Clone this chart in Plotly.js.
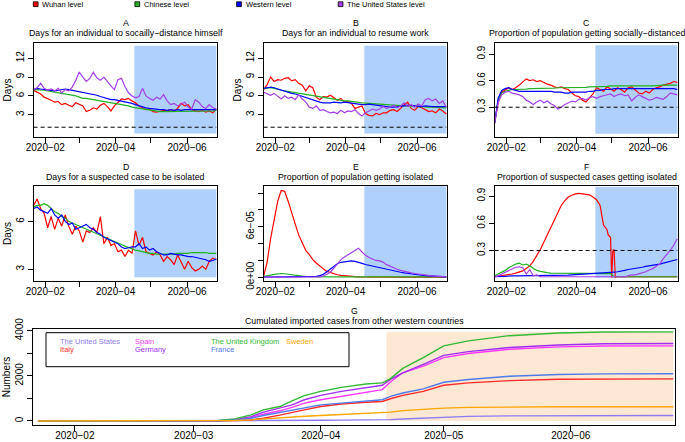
<!DOCTYPE html>
<html>
<head>
<meta charset="utf-8">
<script src="https://cdn.plot.ly/plotly-3.0.1.min.js"></script>
<style>html,body{margin:0;padding:0;background:#fff}#chart{width:685px;height:442px}</style>
</head>
<body>
<div id="chart"></div>
<script>
// ---------------- DATA ----------------
const days = ['2020-01-22','2020-01-25','2020-01-28','2020-01-31','2020-02-03','2020-02-06','2020-02-09','2020-02-12','2020-02-15','2020-02-18','2020-02-21','2020-02-24','2020-02-27','2020-03-01','2020-03-04','2020-03-07','2020-03-10','2020-03-13','2020-03-16','2020-03-19','2020-03-22','2020-03-25','2020-03-28','2020-03-31','2020-04-03','2020-04-06','2020-04-09','2020-04-12','2020-04-15','2020-04-18','2020-04-21','2020-04-24','2020-04-27','2020-04-30','2020-05-03','2020-05-06','2020-05-09','2020-05-12','2020-05-15','2020-05-18','2020-05-21','2020-05-24','2020-05-27','2020-05-30','2020-06-02','2020-06-05','2020-06-08','2020-06-11','2020-06-14','2020-06-17','2020-06-20','2020-06-23','2020-06-26'];

const seriesNames = ['Wuhan level','Chinese level','Western level','The United States level'];

// A: Days for an individual to socially-distance himself
const aWuhan = [6.9,6.6,6.3,5.8,5.6,5.3,5.0,5.1,4.6,4.8,4.5,4.3,4.9,4.7,4.4,3.5,3.7,4.1,3.9,4.5,4.8,4.3,3.6,4.4,5.0,5.5,5.4,5.6,5.2,4.9,4.4,4.1,3.8,3.9,3.5,3.4,3.6,3.7,3.6,3.8,3.6,4.0,4.8,4.4,4.6,3.8,3.6,3.5,3.7,3.4,3.6,3.3,3.9];
const aChina = [7.0,7.0,6.9,6.9,6.8,6.7,6.6,6.5,6.5,6.3,6.2,6.1,6.0,5.8,5.6,5.6,5.5,5.5,5.4,5.3,5.2,5.1,5.0,4.9,4.8,4.7,4.5,4.4,4.2,4.1,4.0,3.9,3.8,3.7,3.6,3.6,3.5,3.5,3.5,3.5,3.5,3.5,3.5,3.5,3.5,3.5,3.6,3.6,3.6,3.6,3.6,3.6,3.7];
const aWest = [7.0,7.2,7.1,7.0,6.9,6.9,6.8,6.9,7.0,7.1,7.0,6.9,6.7,6.6,6.5,6.4,6.4,6.3,6.1,5.9,5.7,5.5,5.4,5.4,5.3,5.2,5.1,5.0,4.8,4.6,4.4,4.3,4.1,4.0,3.9,3.9,3.8,3.8,3.7,3.8,3.7,3.8,3.7,3.8,3.8,3.7,3.7,3.8,3.7,3.7,3.7,3.8,3.8];
const aUS = [7.0,7.3,8.0,7.2,6.9,7.1,6.8,7.2,6.5,7.0,6.8,7.4,8.5,9.8,9.0,8.3,8.8,9.8,8.9,8.5,9.0,8.2,7.6,7.0,8.6,8.8,7.5,6.5,6.0,5.7,5.9,7.2,6.0,5.6,5.3,5.8,5.5,6.2,5.2,4.6,4.8,4.4,4.7,5.0,4.2,3.9,5.4,5.0,4.3,4.0,4.6,4.1,3.9];

// B: Days for an individual to resume work
const bWuhan = [7.0,7.8,9.0,8.3,8.6,8.5,8.8,8.9,8.4,8.6,8.0,7.7,6.8,7.6,7.3,5.8,5.4,5.9,5.8,6.1,5.7,5.3,5.6,5.0,5.1,4.8,4.0,4.2,4.4,3.2,2.9,2.8,3.2,3.0,3.3,3.3,3.7,3.8,3.5,4.0,4.6,5.0,4.0,3.7,4.3,4.1,3.8,3.5,3.6,3.3,3.9,3.6,3.1];
const bChina = [7.2,7.3,7.3,7.2,7.0,6.9,6.8,6.7,6.6,6.5,6.4,6.3,6.2,6.1,6.0,5.9,5.8,5.7,5.6,5.5,5.4,5.35,5.3,5.2,5.2,5.1,5.0,4.95,4.9,4.85,4.8,4.75,4.7,4.65,4.6,4.6,4.55,4.5,4.5,4.45,4.4,4.4,4.35,4.35,4.3,4.3,4.25,4.2,4.2,4.2,4.15,4.1,4.1];
const bWest = [7.2,7.3,7.4,7.3,7.1,6.9,6.8,6.6,6.4,6.3,6.1,5.9,5.7,5.5,5.3,5.1,5.0,4.9,4.85,4.9,5.0,4.95,4.9,5.0,4.9,4.8,4.7,4.6,4.6,4.6,4.7,4.6,4.5,4.4,4.3,4.3,4.2,4.2,4.3,4.4,4.4,4.5,4.5,4.4,4.3,4.3,4.4,4.3,4.3,4.3,4.3,4.3,4.3];
const bUS = [6.6,6.3,6.1,6.4,5.9,5.5,6.0,5.6,5.8,5.4,6.2,5.5,5.0,4.2,4.0,4.4,3.7,3.8,3.5,3.3,3.4,3.2,3.7,3.3,3.6,3.5,3.8,3.2,2.8,3.3,3.6,3.9,3.7,3.9,4.3,4.0,4.2,4.5,4.1,4.4,4.9,4.3,4.6,4.2,4.7,4.4,5.4,5.6,5.2,5.5,4.8,5.2,4.2];

// C: Proportion of population getting socially-distanced
const cWuhan = [0.12,0.35,0.47,0.50,0.52,0.50,0.52,0.55,0.58,0.62,0.60,0.61,0.59,0.60,0.58,0.56,0.55,0.53,0.52,0.53,0.51,0.50,0.46,0.43,0.42,0.38,0.36,0.40,0.45,0.52,0.50,0.48,0.53,0.50,0.48,0.52,0.50,0.47,0.52,0.53,0.50,0.46,0.45,0.48,0.46,0.50,0.52,0.53,0.55,0.56,0.57,0.59,0.58];
const cChina = [0.12,0.38,0.46,0.48,0.49,0.50,0.50,0.50,0.50,0.505,0.51,0.51,0.51,0.51,0.51,0.51,0.51,0.515,0.52,0.52,0.52,0.52,0.52,0.52,0.52,0.52,0.525,0.53,0.53,0.53,0.53,0.53,0.535,0.54,0.54,0.54,0.54,0.54,0.54,0.54,0.54,0.54,0.535,0.535,0.54,0.54,0.545,0.55,0.55,0.55,0.55,0.55,0.55];
const cWest = [0.12,0.40,0.49,0.51,0.52,0.50,0.49,0.48,0.48,0.48,0.48,0.48,0.48,0.48,0.48,0.48,0.48,0.47,0.47,0.47,0.46,0.46,0.47,0.47,0.47,0.47,0.47,0.48,0.48,0.49,0.49,0.50,0.50,0.50,0.51,0.51,0.51,0.51,0.51,0.51,0.51,0.51,0.51,0.51,0.51,0.51,0.51,0.51,0.51,0.51,0.51,0.51,0.50];
const cUS = [0.12,0.35,0.44,0.47,0.48,0.46,0.45,0.44,0.42,0.38,0.36,0.33,0.36,0.38,0.35,0.37,0.34,0.32,0.28,0.30,0.33,0.35,0.37,0.36,0.39,0.40,0.38,0.41,0.42,0.40,0.42,0.43,0.44,0.45,0.42,0.44,0.45,0.43,0.44,0.37,0.41,0.44,0.42,0.40,0.38,0.39,0.41,0.40,0.39,0.42,0.46,0.45,0.44];

// D: Days for a suspected case to be isolated
const dWuhan = [7.0,7.4,6.8,6.5,5.6,6.3,5.5,6.2,5.7,6.4,5.7,5.2,5.7,5.4,4.7,5.4,5.3,5.6,5.3,6.3,4.6,5.0,4.5,4.6,4.1,4.2,3.8,4.2,4.0,5.4,4.5,5.0,4.1,4.0,3.9,4.1,3.9,3.5,3.8,3.6,3.3,3.9,3.4,3.0,3.5,3.1,2.9,3.0,3.2,3.0,3.5,3.7,3.6];
const dChina = [6.9,7.0,7.0,7.1,7.0,6.8,6.6,6.5,6.3,6.2,6.0,5.9,5.8,5.7,5.6,5.5,5.4,5.3,5.2,5.1,5.0,4.9,4.85,4.75,4.65,4.55,4.45,4.35,4.25,4.2,4.15,4.1,4.05,4.0,4.0,3.95,3.95,3.95,3.95,3.95,3.95,4.0,4.0,4.0,4.0,4.05,4.05,4.05,4.05,4.05,4.0,4.0,4.0];
const dWest = [6.8,6.9,6.7,6.6,6.5,6.8,6.4,6.2,6.4,6.0,5.8,5.9,5.5,5.6,5.7,5.8,5.6,5.5,5.3,5.2,5.0,4.9,4.8,4.7,4.6,4.4,4.3,4.35,4.4,4.4,4.6,4.3,4.4,4.2,4.3,4.1,4.0,3.9,3.9,4.0,3.95,3.9,3.9,3.85,3.8,3.8,3.75,3.7,3.65,3.6,3.5,3.55,3.65];

// E: Proportion of population getting isolated
const eWuhan = [0.1e-5,1.8e-5,4.6e-5,7.0e-5,9.0e-5,10.3e-5,10.2e-5,9.0e-5,7.5e-5,6.3e-5,5.0e-5,4.0e-5,3.2e-5,2.7e-5,2.1e-5,1.7e-5,1.3e-5,1.0e-5,0.7e-5,0.55e-5,0.4e-5,0.3e-5,0.22e-5,0.16e-5,0.12e-5,0.09e-5,0.07e-5,0.05e-5,0.04e-5,0.03e-5,0.03e-5,0.03e-5,0.02e-5,0.02e-5,0.02e-5,0.02e-5,0.02e-5,0.02e-5,0.02e-5,0.02e-5,0.02e-5,0.02e-5,0.02e-5,0.02e-5,0.02e-5,0.02e-5,0.02e-5,0.02e-5,0.02e-5,0.02e-5,0.02e-5,0.02e-5,0.02e-5];
const eChina = [0.1e-5,0.15e-5,0.25e-5,0.35e-5,0.42e-5,0.45e-5,0.42e-5,0.35e-5,0.28e-5,0.22e-5,0.17e-5,0.13e-5,0.1e-5,0.08e-5,0.07e-5,0.06e-5,0.05e-5,0.05e-5,0.05e-5,0.05e-5,0.05e-5,0.05e-5,0.05e-5,0.05e-5,0.05e-5,0.05e-5,0.05e-5,0.05e-5,0.05e-5,0.05e-5,0.05e-5,0.05e-5,0.05e-5,0.05e-5,0.05e-5,0.05e-5,0.05e-5,0.05e-5,0.05e-5,0.05e-5,0.05e-5,0.05e-5,0.05e-5,0.05e-5,0.05e-5,0.05e-5,0.05e-5,0.05e-5,0.05e-5,0.05e-5,0.05e-5,0.05e-5,0.05e-5];
const eWest = [0.02e-5,0.02e-5,0.02e-5,0.02e-5,0.02e-5,0.02e-5,0.02e-5,0.02e-5,0.02e-5,0.02e-5,0.02e-5,0.02e-5,0.02e-5,0.02e-5,0.05e-5,0.1e-5,0.2e-5,0.35e-5,0.65e-5,1.0e-5,1.3e-5,1.6e-5,1.78e-5,1.86e-5,1.92e-5,1.94e-5,1.88e-5,1.8e-5,1.65e-5,1.52e-5,1.42e-5,1.32e-5,1.22e-5,1.12e-5,1.03e-5,0.94e-5,0.85e-5,0.76e-5,0.68e-5,0.6e-5,0.52e-5,0.45e-5,0.39e-5,0.34e-5,0.29e-5,0.24e-5,0.2e-5,0.16e-5,0.13e-5,0.1e-5,0.08e-5,0.06e-5,0.05e-5];
const eUS = [0.01e-5,0.01e-5,0.01e-5,0.01e-5,0.01e-5,0.01e-5,0.01e-5,0.01e-5,0.01e-5,0.01e-5,0.01e-5,0.01e-5,0.01e-5,0.01e-5,0.01e-5,0.02e-5,0.05e-5,0.15e-5,0.35e-5,0.6e-5,1.1e-5,1.6e-5,2.1e-5,2.4e-5,2.65e-5,2.9e-5,3.2e-5,3.45e-5,3.0e-5,2.6e-5,2.35e-5,2.15e-5,2.0e-5,1.95e-5,1.8e-5,1.5e-5,1.3e-5,1.12e-5,0.95e-5,0.82e-5,0.7e-5,0.6e-5,0.52e-5,0.45e-5,0.38e-5,0.32e-5,0.26e-5,0.21e-5,0.17e-5,0.13e-5,0.1e-5,0.08e-5,0.06e-5];

// F: Proportion of suspected cases getting isolated
const fWuhanDays = days.slice(0,33).concat(['2020-04-28','2020-04-29','2020-04-30','2020-05-01','2020-05-02','2020-05-03','2020-05-04','2020-05-05']).concat(days.slice(36));
const fWuhan = [0.01,0.015,0.02,0.025,0.03,0.04,0.05,0.06,0.075,0.10,0.13,0.18,0.24,0.31,0.39,0.47,0.55,0.63,0.72,0.80,0.85,0.89,0.91,0.925,0.93,0.925,0.92,0.915,0.89,0.86,0.80,0.58,0.53,
  0.47,0.46,0.44,0.0,0.30,0.31,0.0,0.01,
  0.01,0.01,0.01,0.01,0.01,0.01,0.01,0.01,0.01,0.01,0.01,0.01,0.01,0.01,0.01,0.01,0.01];
const fChina = [0.02,0.04,0.06,0.08,0.11,0.13,0.15,0.16,0.14,0.15,0.13,0.10,0.08,0.07,0.06,0.055,0.05,0.05,0.05,0.05,0.05,0.05,0.05,0.05,0.05,0.05,0.05,0.05,0.05,0.05,0.05,0.05,0.048,0.045,0.01,0.01,0.01,0.01,0.01,0.01,0.01,0.01,0.01,0.01,0.01,0.01,0.01,0.01,0.01,0.01,0.01,0.01,0.01];
const fWest = [0.01,0.015,0.015,0.015,0.02,0.02,0.02,0.02,0.02,0.02,0.02,0.02,0.02,0.02,0.02,0.02,0.02,0.02,0.022,0.024,0.025,0.027,0.03,0.032,0.035,0.037,0.04,0.042,0.045,0.047,0.048,0.05,0.05,0.055,0.06,0.065,0.07,0.08,0.09,0.095,0.10,0.11,0.115,0.125,0.13,0.14,0.145,0.15,0.16,0.17,0.18,0.19,0.20];
const fUS = [0.01,0.02,0.04,0.06,0.08,0.10,0.115,0.12,0.11,0.04,0.09,0.02,0.03,0.01,0.01,0.01,0.01,0.01,0.01,0.01,0.01,0.01,0.01,0.01,0.01,0.01,0.01,0.01,0.01,0.01,0.01,0.01,0.01,0.01,0.01,0.01,0.01,0.01,0.02,0.03,0.03,0.04,0.05,0.065,0.085,0.10,0.125,0.15,0.21,0.25,0.30,0.36,0.43];

// G: Cumulated imported cases from other western countries
const gDays = ['2020-01-23','2020-02-15','2020-03-01','2020-03-07','2020-03-11','2020-03-15','2020-03-18','2020-03-22','2020-03-25','2020-03-28','2020-04-01','2020-04-06','2020-04-12','2020-04-16','2020-04-18','2020-04-21','2020-04-26','2020-05-01','2020-05-07','2020-05-17','2020-05-29','2020-06-09','2020-06-26'];
const countries = ['The United States','Italy','Spain','Germany','The United Kingdom','France','Sweden'];
const gUS = [0,0,0,0,0,5,10,15,20,25,30,38,45,50,60,90,130,190,205,225,235,240,240];
const gItaly = [0,0,0,0,15,45,120,260,390,490,640,750,830,865,985,1135,1310,1580,1690,1790,1850,1860,1865];
const gSpain = [0,0,0,5,40,150,300,450,600,790,940,1090,1250,1390,1730,2135,2430,2810,2990,3180,3285,3320,3330];
const gGermany = [0,0,0,10,60,190,390,560,715,940,1135,1310,1480,1580,1840,2135,2510,2910,3075,3255,3370,3420,3435];
const gUK = [0,0,0,20,90,270,490,640,895,1120,1310,1490,1640,1690,1880,2330,2810,3330,3550,3780,3900,3940,3950];
const gFrance = [0,0,0,5,40,120,240,380,490,570,715,790,880,940,1090,1240,1420,1715,1840,1985,2060,2085,2090];
const gSweden = [0,0,0,5,20,50,90,130,180,210,240,290,330,360,390,460,530,570,600,620,630,630,630];

// ticks
const monthTicks = ['2020-02-01','2020-03-01','2020-04-01','2020-05-01','2020-06-01'];
const monthLabelsSparse = ['2020\u221202','','2020\u221204','','2020\u221206'];
const monthLabelsFull = ['2020\u221202','2020\u221203','2020\u221204','2020\u221205','2020\u221206'];
const daysTicks = [3,6,9,12];
const propTicks = [0.3,0.6,0.9];
const dTicks = [3,6];
const eTicks = [0,2e-5,4e-5,6e-5,8e-5,1e-4];
const eTickText = ['0e+00','','','6e\u221205','',''];
const gTicks = [0,1000,2000,3000,4000];
const gTickText = ['0','','2000','','4000'];

const shadeStart = '2020-04-17';
const thresholdDays = 1;
const thresholdProp = 0.3;

// ---------------- STYLE / LAYOUT ----------------
const W = 685, H = 442;
const FONT = 'Liberation Sans, Arial, Helvetica, sans-serif';
const cols = ['#FF0000','#23B123','#0000FF','#A33EEA'];
const gCols = ['#8E7BF2','#FF2A2A','#FF38FF','#A22EF0','#33B833','#4F7BE8','#FFA500'];
const shadeBlue = 'rgb(175,208,250)';
const shadePeach = 'rgb(253,232,212)';

const boxes = {
  1:[34,217,43,137], 2:[264,447,43,137], 3:[495,678,43,137],
  4:[34,217,186,281], 5:[264,447,186,281], 6:[495,678,186,281],
  7:[33,675,329,425]
};
const xd = b => [b[0]/W, b[1]/W];
const yd = b => [1-b[3]/H, 1-b[2]/H];

const traces = [];
function addLine(n, x, y, color, name, width) {
  traces.push({type:'scatter', mode:'lines', x:x, y:y, name:name,
    xaxis: n===1?'x':'x'+n, yaxis: n===1?'y':'y'+n,
    line:{color:color, width:width||1.2}, showlegend:false, hoverinfo:'skip'});
}
[[1,[aWuhan,aChina,aWest,aUS]],[2,[bWuhan,bChina,bWest,bUS]],[3,[cWuhan,cChina,cWest,cUS]],[4,[dWuhan,dChina,dWest,null]],[5,[eWuhan,eChina,eWest,eUS]]].forEach(([n,arr]) => {
  arr.forEach((s,i) => { if (s) addLine(n, days, s, cols[i], seriesNames[i]); });
});
addLine(6, fWuhanDays, fWuhan, cols[0], seriesNames[0]);
addLine(6, days, fChina, cols[1], seriesNames[1]);
addLine(6, days, fWest, cols[2], seriesNames[2]);
addLine(6, days, fUS, cols[3], seriesNames[3]);
[gUS,gItaly,gSpain,gGermany,gUK,gFrance,gSweden].forEach((s,i) => addLine(7, gDays, s, gCols[i], countries[i], 1.4));

const tickFont = {family:FONT, size:10, color:'#000'};
function xAxis(n, labels, range) {
  return {domain:xd(boxes[n]), anchor: n===1?'y':'y'+n, type:'date', range:range,
    tickmode:'array', tickvals:monthTicks, ticktext:labels, tickangle:0,
    showline:true, mirror:true, linecolor:'#000', linewidth:1,
    ticks:'outside', ticklen:5, tickwidth:1, tickcolor:'#000', ticklabelstandoff:-4,
    showgrid:false, zeroline:false, tickfont:tickFont, fixedrange:true};
}
function yAxis(n, range, vals, text, title) {
  const a = {domain:yd(boxes[n]), anchor: n===1?'x':'x'+n, range:range,
    tickmode:'array', tickvals:vals, ticktext:text||vals.map(String), tickangle:-90,
    showline:true, mirror:true, linecolor:'#000', linewidth:1,
    ticks:'outside', ticklen:5, tickwidth:1, tickcolor:'#000',
    showgrid:false, zeroline:false, tickfont:tickFont, fixedrange:true};
  if (title) a.title = {text:title, font:{family:FONT, size:10, color:'#000'}, standoff:1};
  return a;
}
const xr = ['2020-01-22 08:00','2020-06-26 14:00'];
const xrG = ['2020-01-21 19:00','2020-06-26 10:00'];

const layout = {
  width:W, height:H, margin:{l:0,r:0,t:0,b:0},
  paper_bgcolor:'#fff', plot_bgcolor:'#fff', showlegend:false,
  font:{family:FONT, color:'#000'},
  xaxis: xAxis(1, monthLabelsSparse, xr),
  xaxis2: xAxis(2, monthLabelsSparse, xr),
  xaxis3: xAxis(3, monthLabelsSparse, xr),
  xaxis4: xAxis(4, monthLabelsSparse, xr),
  xaxis5: xAxis(5, monthLabelsSparse, xr),
  xaxis6: xAxis(6, monthLabelsSparse, xr),
  xaxis7: xAxis(7, monthLabelsFull, xrG),
  yaxis: yAxis(1, [-0.56,14.44], daysTicks, null, 'Days'),
  yaxis2: yAxis(2, [-0.56,14.44], daysTicks, null, 'Days'),
  yaxis3: yAxis(3, [-0.036,1.025], propTicks, null, null),
  yaxis4: yAxis(4, [2.27,8.21], dTicks, null, 'Days'),
  yaxis5: yAxis(5, [-0.44e-5,10.83e-5], eTicks, eTickText, null),
  yaxis6: yAxis(6, [-0.037,1.012], propTicks, null, null),
  yaxis7: yAxis(7, [-179,4076], gTicks, gTickText, 'Numbers'),
  shapes: [], annotations: []
};

// shaded periods
const lastDay = days[days.length-1];
const shadeY = {1:[0,14],2:[0,14],3:[0,1],4:[2.5,8],5:[0,10.8e-5],6:[0,1]};
Object.keys(shadeY).forEach(k => {
  const n = +k;
  layout.shapes.push({type:'rect', layer:'below', xref:n===1?'x':'x'+n, yref:n===1?'y':'y'+n,
    x0:shadeStart, x1:lastDay, y0:shadeY[k][0], y1:shadeY[k][1], fillcolor:shadeBlue, line:{width:0}});
});
layout.shapes.push({type:'rect', layer:'below', xref:'x7', yref:'y7',
  x0:shadeStart, x1:gDays[gDays.length-1], y0:0, y1:Math.max(...gUK), fillcolor:shadePeach, line:{width:0}});

// dashed thresholds
[[1,thresholdDays],[2,thresholdDays],[3,thresholdProp],[6,thresholdProp]].forEach(([n,v]) => {
  layout.shapes.push({type:'line', xref:n===1?'x':'x'+n, yref:n===1?'y':'y'+n,
    x0:days[0], x1:lastDay, y0:v, y1:v, line:{color:'#000', width:1, dash:'4px,3px'}});
});

// panel titles
const titles = [
  ['A','Days for an individual to socailly\u2212distance himself',1,22.7,33.3],
  ['B','Days for an individual to resume work',2,22.7,33.3],
  ['C','Proportion of population getting socially\u2212distanced',3,22.7,33.3],
  ['D','Days for a suspected case to be isolated',4,166.5,177.3],
  ['E','Proportion of population getting isolated',5,166.5,177.3],
  ['F','Proportion of suspected cases getting isolated',6,166.5,177.3],
  ['G','Cumulated imported cases from other western countries',7,311,320.5]
];
titles.forEach(([letter, txt, n, y1, y2]) => {
  const b = boxes[n]; const cx = (b[0]+b[1])/2/W;
  layout.annotations.push({xref:'paper', yref:'paper', x:cx, y:1-y1/H, text:letter, showarrow:false,
    xanchor:'center', yanchor:'middle', font:{family:FONT, size:8.8, color:'#000'}});
  layout.annotations.push({xref:'paper', yref:'paper', x:cx, y:1-y2/H, text:txt, showarrow:false,
    xanchor:'center', yanchor:'middle', font:{family:FONT, size:8.8, color:'#000'}});
});

// top legend
const legX = [35.7, 137.3, 239, 340.6];
seriesNames.forEach((nm, i) => {
  layout.shapes.push({type:'rect', xref:'paper', yref:'paper',
    x0:(legX[i]-2.4)/W, x1:(legX[i]+2.4)/W, y0:1-(4.2+2.4)/H, y1:1-(4.2-2.4)/H,
    fillcolor:cols[i], line:{color:'#000', width:0.8}});
  layout.annotations.push({xref:'paper', yref:'paper', x:(legX[i]+4.5)/W, y:1-4.5/H, text:nm, showarrow:false,
    xanchor:'left', yanchor:'middle', font:{family:FONT, size:7.5, color:'#000'}});
});

// G legend
layout.shapes.push({type:'rect', xref:'paper', yref:'paper', x0:46/W, x1:349/W, y0:1-366.7/H, y1:1-332.7/H,
  line:{color:'#000', width:1}, fillcolor:'rgba(0,0,0,0)'});
const gLegPos = [[58,341],[58,349.3],[133,341],[133,349.3],[209,341],[209,349.3],[284,341]];
countries.forEach((c,i) => {
  layout.annotations.push({xref:'paper', yref:'paper', x:gLegPos[i][0]/W, y:1-gLegPos[i][1]/H, text:c, showarrow:false,
    xanchor:'left', yanchor:'middle', font:{family:FONT, size:7.5, color:gCols[i]}});
});

Plotly.newPlot('chart', traces, layout, {staticPlot:true, displayModeBar:false});
</script>
</body>
</html>
